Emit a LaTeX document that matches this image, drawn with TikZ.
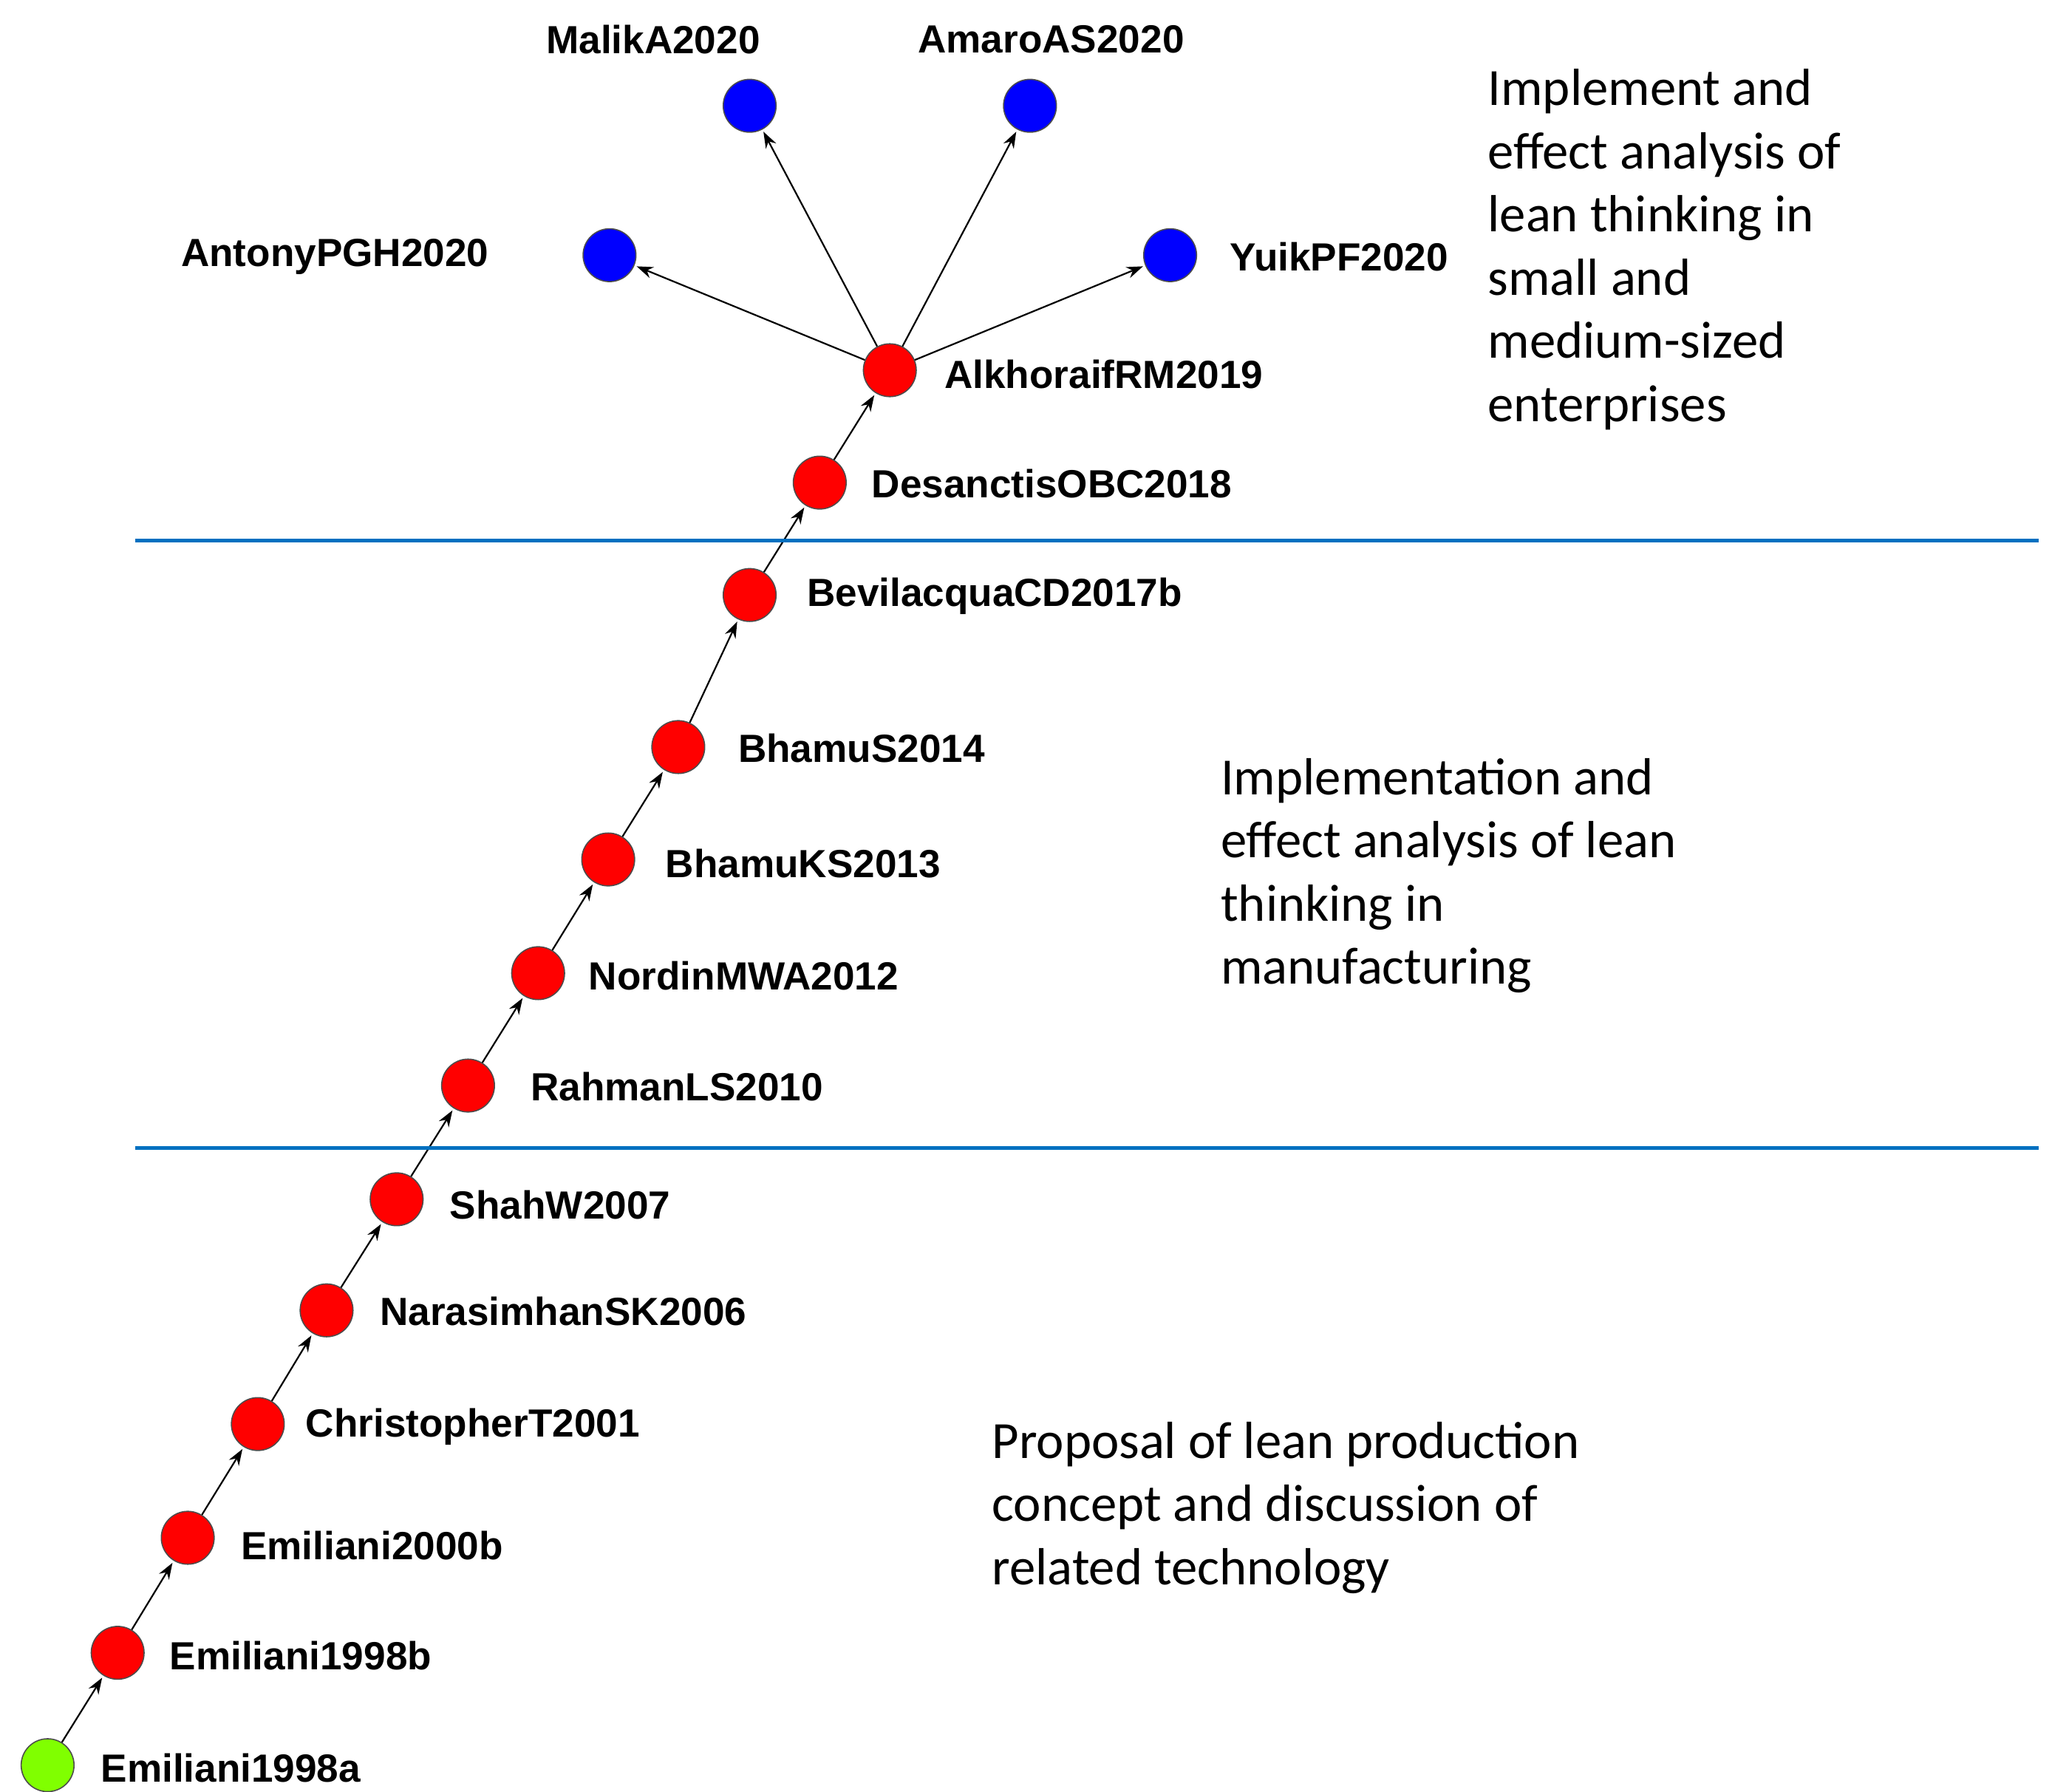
\documentclass[tikz,border=0pt]{standalone}
\usepackage{fontspec}
\setmainfont{Liberation Sans}
\newfontfamily\descfont{Carlito}
\usetikzlibrary{arrows.meta}
\definecolor{lineblue}{RGB}{0,112,192}
\definecolor{nodered}{RGB}{255,0,0}
\definecolor{nodeblue}{RGB}{0,0,255}
\definecolor{nodegreen}{RGB}{128,255,0}
\tikzset{
 paper/.style={circle,draw=black!70,line width=0.5pt,minimum size=0.8cm,inner sep=0pt},
 rednode/.style={paper,fill=nodered},
 bluenode/.style={paper,fill=nodeblue},
 greennode/.style={paper,fill=nodegreen},
 lbl/.style={font=\fontsize{16.9}{19}\selectfont\bfseries,inner sep=0pt},
 cite/.style={-{Stealth[length=7pt,width=5pt]},line width=0.7pt,shorten >=1pt},
 desc/.style={font=\descfont\fontsize{22.5}{27.2}\selectfont,align=left,anchor=north west,inner sep=0pt},
 sep/.style={lineblue,line width=1.6pt}
}
\begin{document}
\begin{tikzpicture}[x=0.02cm,y=-0.02cm]
\useasboundingbox (0,0) rectangle (1552,1355);
\node[greennode] (n1) at (36,1335) {};
\node[rednode] (n2) at (89,1250) {};
\node[rednode] (n3) at (142,1163) {};
\node[rednode] (n4) at (195,1077) {};
\node[rednode] (n5) at (247,991) {};
\node[rednode] (n6) at (300,907) {};
\node[rednode] (n7) at (354,821) {};
\node[rednode] (n8) at (407,736) {};
\node[rednode] (n9) at (460,650) {};
\node[rednode] (n10) at (513,565) {};
\node[rednode] (n11) at (567,450) {};
\node[rednode] (n12) at (620,365) {};
\node[rednode] (n13) at (673,280) {};
\node[bluenode] (b1) at (461,193) {};
\node[bluenode] (b2) at (567,80) {};
\node[bluenode] (b3) at (779,80) {};
\node[bluenode] (b4) at (885,193) {};
\foreach \a/\b in {n1/n2,n2/n3,n3/n4,n4/n5,n5/n6,n6/n7,n7/n8,n8/n9,n9/n10,n10/n11,n11/n12,n12/n13,n13/b1,n13/b2,n13/b3,n13/b4}
  \draw[cite] (\a) -- (\b);
\node[lbl,anchor=west] (l1) at (76,1337) {Emiliani1998a};
\node[lbl,anchor=west] (l2) at (128,1252) {Emiliani1998b};
\node[lbl,anchor=west] (l3) at (182,1169) {Emiliani2000b};
\node[lbl,anchor=west] (l4) at (231,1079) {ChristopherT2001};
\node[lbl,anchor=west] (l5) at (287,992) {NarasimhanSK2006};
\node[lbl,anchor=west] (l6) at (340,911) {ShahW2007};
\node[lbl,anchor=west] (l7) at (401,822) {RahmanLS2010};
\node[lbl,anchor=west] (l8) at (445,738) {NordinMWA2012};
\node[lbl,anchor=west] (l9) at (503,653) {BhamuKS2013};
\node[lbl,anchor=west] (l10) at (558,566) {BhamuS2014};
\node[lbl,anchor=west] (l11) at (610,451) {BevilacquaCD2017b};
\node[lbl,anchor=west] (l12) at (659,366) {DesanctisOBC2018};
\node[lbl,anchor=west] (l13) at (714,283) {AlkhoraifRM2019};
\node[lbl,anchor=east] (lb1) at (370,194) {AntonyPGH2020};
\node[lbl] (lb2) at (494,30) {MalikA2020};
\node[lbl] (lb3) at (795,30) {AmaroAS2020};
\node[lbl,anchor=west] (lb4) at (930,194) {YuikPF2020};
\draw[sep] (102,409) -- (1542,409);
\draw[sep] (102,868) -- (1542,868);
\node[desc] (d1) at (1125,52) {Implement and\\effect analysis of\\lean thinking in\\small and\\medium-sized\\enterprises};
\node[desc] (d2) at (923,573) {Implementation and\\effect analysis of lean\\thinking in\\manufacturing};
\node[desc] (d3) at (750,1075) {Proposal of lean production\\concept and discussion of\\related technology};
\end{tikzpicture}
\end{document}
